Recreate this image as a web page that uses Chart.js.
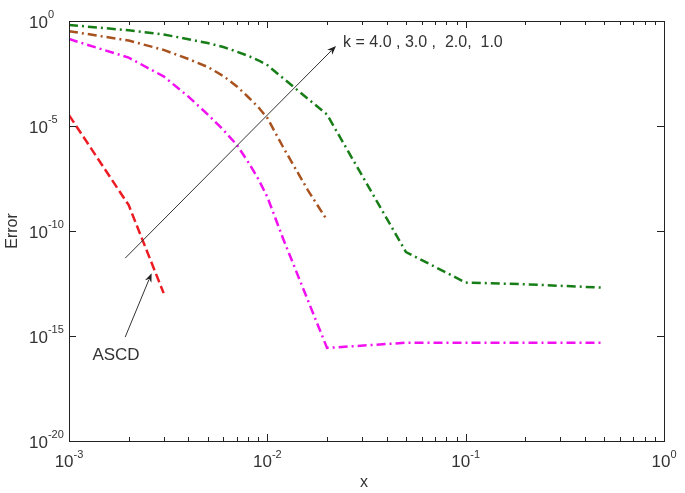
<!DOCTYPE html>
<html>
<head>
<meta charset="utf-8">
<script src="https://cdn.jsdelivr.net/npm/chart.js@4"></script>
<style>
  html, body { margin: 0; padding: 0; background: #fff; }
  #wrap { width: 685px; height: 493px; }
</style>
</head>
<body>
<div id="wrap"><canvas id="errChart" width="685" height="493"></canvas></div>
<script>
// ASCD (red dashed)
const xRed = [0.001, 0.002, 0.003];
const errRed = [3.3e-5, 1.7e-9, 1.1e-13];

// k = 1.0 (green)
const xGreen = [0.001, 0.002, 0.003, 0.004, 0.005, 0.006, 0.007, 0.008, 0.009, 0.01, 0.02, 0.05, 0.1, 0.2, 0.5];
const errGreen = [0.65, 0.36, 0.23, 0.135, 0.089, 0.058, 0.035, 0.022, 0.0135, 7.9e-3, 3.5e-5, 1.0e-11, 3.5e-13, 2.9e-13, 2.0e-13];

// k = 2.0 (brown)
const xBrown = [0.001, 0.002, 0.003, 0.004, 0.005, 0.006, 0.007, 0.008, 0.009, 0.01, 0.012, 0.014, 0.016, 0.018, 0.02];
const errBrown = [0.33, 0.117, 0.042, 0.0155, 6.5e-3, 2.4e-3, 7.9e-4, 2.4e-4, 7.9e-5, 2.4e-5, 1.0e-6, 7.9e-8, 8.9e-9, 1.55e-9, 3.3e-10];

// k = 3.0 (magenta)
const xMagenta = [0.001, 0.002, 0.003, 0.004, 0.005, 0.006, 0.007, 0.008, 0.009, 0.01, 0.012, 0.02, 0.05, 0.1, 0.2, 0.5];
const errMagenta = [0.138, 0.018, 2.3e-3, 2.5e-4, 3.6e-5, 6.5e-6, 1.3e-6, 1.95e-7, 3.0e-8, 4.2e-9, 4.4e-11, 2.7e-16, 4.8e-16, 4.8e-16, 4.8e-16, 4.8e-16];

// axis ticks (decade exponents)
const xMajor = [-3, -2, -1, 0];
const yMajor = [0, -5, -10, -15, -20];

// annotations, in data coordinates
const kArrow = [[0.00192, 5.1e-12], [0.0222, 0.065]];
const kLabel = { x: 0.0241, y: 0.095, text: "k = 4.0 , 3.0 ,  2.0,  1.0" };
const ascdArrow = [[0.00192, 8.9e-16], [0.00261, 9.8e-13]];
const ascdLabel = { x: 0.001726, y: 1.26e-16, text: "ASCD" };

function toPoints(xs, ys) {
  return xs.map((x, i) => ({ x: x, y: ys[i] }));
}

function drawArrow(ctx, x0, y0, x1, y1) {
  const ang = Math.atan2(y1 - y0, x1 - x0);
  const len = 9, half = 3.5;
  ctx.beginPath();
  ctx.moveTo(x0, y0);
  ctx.lineTo(x1 - Math.cos(ang) * len * 0.8, y1 - Math.sin(ang) * len * 0.8);
  ctx.stroke();
  ctx.beginPath();
  ctx.moveTo(x1, y1);
  ctx.lineTo(x1 - Math.cos(ang) * len - Math.sin(ang) * half, y1 - Math.sin(ang) * len + Math.cos(ang) * half);
  ctx.lineTo(x1 - Math.cos(ang) * len * 0.7, y1 - Math.sin(ang) * len * 0.7);
  ctx.lineTo(x1 - Math.cos(ang) * len + Math.sin(ang) * half, y1 - Math.sin(ang) * len - Math.cos(ang) * half);
  ctx.closePath();
  ctx.fill();
}

const FONT = '"Liberation Sans", Arial, sans-serif';

const axesPlugin = {
  id: "axesPlugin",
  afterDatasetsDraw(chart) {
    const { ctx, chartArea: a, scales } = chart;
    const sx = scales.x, sy = scales.y;
    ctx.save();

    // frame
    ctx.strokeStyle = "#222";
    ctx.lineWidth = 1;
    ctx.strokeRect(a.left + 0.5, a.top + 0.5, a.right - a.left, a.bottom - a.top);

    // x ticks, inward, bottom and top
    ctx.beginPath();
    for (let d = -3; d < 0; d++) {
      for (let m = 1; m <= 9; m++) {
        const px = Math.round(sx.getPixelForValue(m * Math.pow(10, d))) + 0.5;
        const L = m === 1 ? 7 : 4;
        ctx.moveTo(px, a.bottom);
        ctx.lineTo(px, a.bottom - L);
        ctx.moveTo(px, a.top);
        ctx.lineTo(px, a.top + L);
      }
    }
    // y ticks, inward, left and right
    yMajor.forEach((e) => {
      const py = Math.round(sy.getPixelForValue(Math.pow(10, e))) + 0.5;
      ctx.moveTo(a.left, py);
      ctx.lineTo(a.left + 7, py);
      ctx.moveTo(a.right, py);
      ctx.lineTo(a.right - 7, py);
    });
    ctx.stroke();

    // tick labels 10^n
    ctx.fillStyle = "#333";
    ctx.textBaseline = "alphabetic";
    ctx.textAlign = "left";
    const big = "17px " + FONT, small = "11px " + FONT;
    xMajor.forEach((e) => {
      const px = sx.getPixelForValue(Math.pow(10, e));
      ctx.font = big;
      const wb = ctx.measureText("10").width;
      ctx.font = small;
      const ws = ctx.measureText(String(e)).width;
      const left = px - (wb + ws) / 2;
      ctx.font = big;
      ctx.fillText("10", left, a.bottom + 26);
      ctx.font = small;
      ctx.fillText(String(e), left + wb, a.bottom + 17);
    });
    yMajor.forEach((e) => {
      const py = sy.getPixelForValue(Math.pow(10, e));
      ctx.font = big;
      const wb = ctx.measureText("10").width;
      ctx.fillText("10", 29, py + 6.5);
      ctx.font = small;
      ctx.fillText(String(e), 29 + wb, py - 3);
    });

    // axis titles
    ctx.font = "16px " + FONT;
    ctx.textAlign = "center";
    ctx.textBaseline = "middle";
    ctx.fillText("x", 364, 483);
    ctx.save();
    ctx.translate(13, (a.top + a.bottom) / 2);
    ctx.rotate(-Math.PI / 2);
    ctx.fillText("Error", 0, 0);
    ctx.restore();

    // annotations
    ctx.strokeStyle = "#333";
    ctx.fillStyle = "#222";
    ctx.lineWidth = 1;
    [kArrow, ascdArrow].forEach((arr) => {
      drawArrow(ctx,
        sx.getPixelForValue(arr[0][0]), sy.getPixelForValue(arr[0][1]),
        sx.getPixelForValue(arr[1][0]), sy.getPixelForValue(arr[1][1]));
    });
    ctx.fillStyle = "#333";
    ctx.font = "16px " + FONT;
    ctx.textAlign = "left";
    ctx.fillText(kLabel.text, sx.getPixelForValue(kLabel.x), sy.getPixelForValue(kLabel.y));
    ctx.font = "17px " + FONT;
    ctx.textAlign = "center";
    ctx.fillText(ascdLabel.text, sx.getPixelForValue(ascdLabel.x), sy.getPixelForValue(ascdLabel.y));

    ctx.restore();
  },
};

const dashDot = [9, 4, 2, 4];

new Chart(document.getElementById("errChart"), {
  type: "line",
  data: {
    datasets: [
      {
        label: "k = 1.0",
        data: toPoints(xGreen, errGreen),
        borderColor: "#177d17",
        borderWidth: 2.5,
        borderDash: dashDot,
      },
      {
        label: "k = 2.0",
        data: toPoints(xBrown, errBrown),
        borderColor: "#a8531f",
        borderWidth: 2.5,
        borderDash: dashDot,
      },
      {
        label: "k = 3.0",
        data: toPoints(xMagenta, errMagenta),
        borderColor: "#f010f0",
        borderWidth: 2.5,
        borderDash: dashDot,
      },
      {
        label: "ASCD",
        data: toPoints(xRed, errRed),
        borderColor: "#ec1c24",
        borderWidth: 2.5,
        borderDash: [9, 4],
      },
    ],
  },
  options: {
    responsive: false,
    animation: false,
    devicePixelRatio: 1,
    elements: {
      point: { radius: 0 },
      line: { tension: 0, fill: false },
    },
    layout: { padding: { left: 69, right: 21, top: 21, bottom: 52 } },
    plugins: {
      legend: { display: false },
      tooltip: { enabled: false },
    },
    scales: {
      x: { type: "logarithmic", min: 0.001, max: 1, display: false },
      y: { type: "logarithmic", min: 1e-20, max: 1, display: false },
    },
  },
  plugins: [axesPlugin],
});
</script>
</body>
</html>
